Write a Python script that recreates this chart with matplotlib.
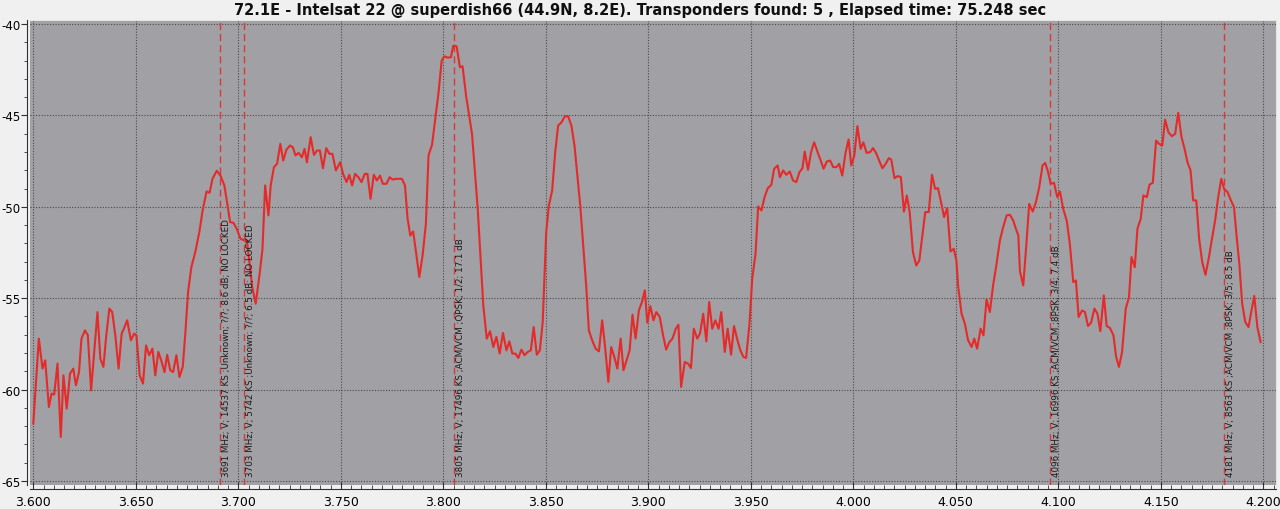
"""Spectrum scan chart — 72.1E Intelsat 22."""
import matplotlib
matplotlib.use("Agg")
import matplotlib.pyplot as plt
import matplotlib.transforms as mtransforms
from matplotlib.ticker import MultipleLocator, FormatStrFormatter

# spectrum trace (GHz, dB)
freq = [
    3.6000, 3.6027, 3.6045, 3.6058, 3.6076, 3.6089, 3.6102, 3.6118, 3.6134, 3.6147,
    3.6163, 3.6179, 3.6195, 3.6208, 3.6223, 3.6235, 3.6252, 3.6266, 3.6282, 3.6297,
    3.6313, 3.6327, 3.6342, 3.6356, 3.6371, 3.6385, 3.6400, 3.6416, 3.6431, 3.6445,
    3.6458, 3.6476, 3.6492, 3.6503, 3.6519, 3.6535, 3.6550, 3.6565, 3.6581, 3.6595,
    3.6610, 3.6624, 3.6640, 3.6653, 3.6668, 3.6682, 3.6698, 3.6713, 3.6729, 3.6742,
    3.6755, 3.6771, 3.6790, 3.6810, 3.6826, 3.6845, 3.6860, 3.6874, 3.6895, 3.6913,
    3.6932, 3.6945, 3.6960, 3.6976, 3.6992, 3.7011, 3.7029, 3.7042, 3.7052, 3.7068,
    3.7085, 3.7105, 3.7118, 3.7131, 3.7147, 3.7158, 3.7174, 3.7189, 3.7205, 3.7219,
    3.7235, 3.7252, 3.7266, 3.7279, 3.7294, 3.7310, 3.7323, 3.7335, 3.7353, 3.7369,
    3.7384, 3.7398, 3.7413, 3.7429, 3.7444, 3.7459, 3.7476, 3.7497, 3.7511, 3.7528,
    3.7541, 3.7555, 3.7570, 3.7586, 3.7601, 3.7617, 3.7630, 3.7645, 3.7661, 3.7676,
    3.7691, 3.7705, 3.7723, 3.7738, 3.7752, 3.7769, 3.7785, 3.7798, 3.7813, 3.7826,
    3.7839, 3.7853, 3.7868, 3.7883, 3.7899, 3.7915, 3.7928, 3.7945, 3.7961, 3.7977,
    3.7992, 3.8005, 3.8021, 3.8037, 3.8049, 3.8065, 3.8081, 3.8094, 3.8111, 3.8140,
    3.8168, 3.8195, 3.8212, 3.8228, 3.8244, 3.8259, 3.8275, 3.8291, 3.8308, 3.8322,
    3.8337, 3.8352, 3.8366, 3.8381, 3.8396, 3.8412, 3.8427, 3.8441, 3.8456, 3.8471,
    3.8485, 3.8502, 3.8515, 3.8531, 3.8546, 3.8560, 3.8577, 3.8593, 3.8609, 3.8625,
    3.8640, 3.8668, 3.8697, 3.8710, 3.8726, 3.8743, 3.8759, 3.8775, 3.8790, 3.8805,
    3.8819, 3.8834, 3.8849, 3.8865, 3.8879, 3.8894, 3.8909, 3.8923, 3.8938, 3.8954,
    3.8969, 3.8983, 3.8995, 3.9010, 3.9025, 3.9039, 3.9056, 3.9072, 3.9087, 3.9103,
    3.9118, 3.9134, 3.9147, 3.9160, 3.9178, 3.9194, 3.9208, 3.9222, 3.9239, 3.9252,
    3.9268, 3.9283, 3.9297, 3.9312, 3.9327, 3.9343, 3.9356, 3.9373, 3.9387, 3.9404,
    3.9418, 3.9435, 3.9449, 3.9464, 3.9477, 3.9493, 3.9507, 3.9523, 3.9536, 3.9552,
    3.9567, 3.9583, 3.9600, 3.9614, 3.9631, 3.9642, 3.9658, 3.9673, 3.9690, 3.9706,
    3.9722, 3.9737, 3.9752, 3.9763, 3.9779, 3.9794, 3.9809, 3.9825, 3.9841, 3.9855,
    3.9871, 3.9887, 3.9902, 3.9918, 3.9931, 3.9946, 3.9962, 3.9977, 3.9990, 4.0005,
    4.0020, 4.0036, 4.0049, 4.0065, 4.0082, 4.0096, 4.0111, 4.0126, 4.0142, 4.0158,
    4.0173, 4.0185, 4.0201, 4.0217, 4.0232, 4.0247, 4.0261, 4.0275, 4.0291, 4.0307,
    4.0322, 4.0337, 4.0351, 4.0368, 4.0384, 4.0399, 4.0413, 4.0428, 4.0443, 4.0458,
    4.0474, 4.0490, 4.0503, 4.0511, 4.0528, 4.0544, 4.0560, 4.0577, 4.0590, 4.0604,
    4.0621, 4.0635, 4.0650, 4.0666, 4.0682, 4.0699, 4.0715, 4.0731, 4.0748, 4.0764,
    4.0780, 4.0793, 4.0805, 4.0813, 4.0829, 4.0845, 4.0858, 4.0875, 4.0891, 4.0907,
    4.0923, 4.0936, 4.0948, 4.0963, 4.0979, 4.0995, 4.1008, 4.1024, 4.1042, 4.1057,
    4.1073, 4.1086, 4.1099, 4.1116, 4.1130, 4.1145, 4.1160, 4.1176, 4.1191, 4.1205,
    4.1222, 4.1236, 4.1252, 4.1269, 4.1282, 4.1296, 4.1311, 4.1329, 4.1345, 4.1357,
    4.1373, 4.1386, 4.1402, 4.1415, 4.1432, 4.1445, 4.1461, 4.1477, 4.1492, 4.1507,
    4.1521, 4.1537, 4.1554, 4.1570, 4.1585, 4.1601, 4.1616, 4.1630, 4.1645, 4.1658,
    4.1673, 4.1687, 4.1702, 4.1718, 4.1735, 4.1749, 4.1765, 4.1780, 4.1795, 4.1809,
    4.1826, 4.1842, 4.1857, 4.1871, 4.1883, 4.1897, 4.1912, 4.1928, 4.1941, 4.1956,
    4.1971, 4.1987,
]
level = [
    -61.86, -57.21, -58.85, -58.40, -60.95, -60.22, -60.27, -58.58, -62.59, -59.22,
    -61.04, -59.13, -58.85, -59.76, -59.04, -57.21, -56.76, -57.03, -60.04, -57.94,
    -55.76, -58.31, -58.76, -57.03, -55.57, -55.76, -57.03, -58.85, -56.94, -56.58,
    -56.21, -57.30, -56.94, -57.03, -59.22, -59.67, -57.58, -58.12, -57.76, -59.22,
    -57.94, -58.40, -59.04, -58.09, -58.94, -59.04, -58.12, -59.31, -58.76, -56.85,
    -54.66, -53.30, -52.48, -51.38, -50.20, -49.16, -49.23, -48.47, -48.03, -48.29,
    -48.83, -49.74, -50.84, -50.87, -51.20, -51.75, -51.84, -51.84, -52.84, -54.39,
    -55.30, -53.57, -52.30, -48.83, -50.47, -48.83, -47.83, -47.65, -46.56, -47.47,
    -46.87, -46.65, -46.74, -47.19, -47.05, -47.29, -46.83, -47.56, -46.19, -47.16,
    -46.92, -46.92, -47.89, -46.79, -47.10, -47.10, -48.01, -47.56, -48.20, -48.65,
    -48.25, -48.83, -48.20, -48.38, -48.65, -48.20, -48.20, -49.56, -48.25, -48.56,
    -48.29, -48.74, -48.74, -48.38, -48.51, -48.47, -48.47, -48.47, -48.83, -50.66,
    -51.57, -51.35, -52.57, -53.84, -52.66, -50.93, -47.19, -46.61, -45.19, -43.73,
    -42.00, -41.77, -41.84, -41.82, -41.18, -41.22, -42.37, -42.31, -43.92, -46.01,
    -50.11, -55.39, -57.21, -56.81, -57.67, -57.12, -58.03, -56.90, -57.85, -57.36,
    -58.03, -58.03, -58.27, -57.81, -58.12, -57.94, -57.85, -56.58, -58.09, -57.85,
    -56.30, -51.38, -49.93, -49.11, -47.01, -45.56, -45.37, -45.05, -45.05, -45.56,
    -46.65, -49.93, -54.30, -56.76, -57.30, -57.76, -57.91, -56.21, -57.76, -59.58,
    -57.67, -58.21, -58.85, -57.21, -58.94, -58.40, -57.85, -55.90, -57.21, -55.67,
    -55.21, -54.57, -56.34, -55.43, -56.21, -55.76, -56.03, -57.03, -57.81, -57.40,
    -57.21, -56.67, -56.45, -59.85, -58.49, -58.58, -58.82, -56.67, -57.21, -56.94,
    -55.85, -57.36, -55.21, -56.67, -56.21, -56.67, -55.76, -57.94, -56.67, -58.09,
    -56.52, -57.30, -57.85, -58.21, -58.27, -56.48, -53.93, -52.57, -49.98, -50.20,
    -49.47, -48.98, -48.80, -47.92, -47.74, -48.38, -48.01, -48.25, -48.07, -48.56,
    -48.65, -48.11, -47.89, -46.98, -47.98, -47.01, -46.47, -46.98, -47.47, -47.92,
    -47.52, -47.47, -47.83, -47.83, -47.65, -48.29, -47.05, -46.32, -47.74, -47.19,
    -45.59, -46.83, -46.47, -47.05, -47.01, -46.79, -47.05, -47.47, -47.89, -47.65,
    -47.34, -47.41, -48.43, -48.32, -48.38, -50.26, -49.38, -50.29, -52.48, -53.21,
    -52.94, -51.57, -50.29, -50.29, -48.25, -49.02, -48.98, -49.74, -50.56, -50.07,
    -52.44, -52.30, -52.94, -54.30, -55.85, -56.39, -57.30, -57.67, -57.21, -57.76,
    -56.67, -57.03, -55.06, -55.76, -54.30, -53.11, -51.84, -51.11, -50.47, -50.44,
    -50.75, -51.20, -51.57, -53.53, -54.30, -51.93, -49.84, -50.26, -49.74, -48.93,
    -47.74, -47.60, -48.01, -48.74, -48.69, -49.47, -49.16, -50.11, -50.80, -52.11,
    -54.12, -54.03, -56.03, -55.67, -55.76, -56.52, -56.34, -55.57, -55.85, -56.81,
    -54.85, -56.52, -56.63, -57.03, -58.21, -58.76, -57.94, -55.57, -54.94, -52.75,
    -53.30, -51.20, -50.66, -49.38, -49.47, -48.78, -48.69, -46.38, -46.56, -46.65,
    -45.23, -45.92, -46.14, -46.01, -44.86, -46.19, -46.83, -47.56, -48.01, -49.65,
    -49.65, -51.75, -53.02, -53.72, -52.75, -51.79, -50.75, -49.47, -48.47, -49.02,
    -49.20, -49.65, -50.02, -51.75, -53.11, -55.30, -56.30, -56.58, -55.76, -54.88,
    -56.58, -57.40,
]

# transponders found (MHz) and their labels
tp_freq_mhz = [3691, 3703, 3805, 4096, 4181]
tp_labels = [
    "3691 MHz; V; 14537 KS ;Unknown; ?/?; 8.6 dB; NO LOCKED",
    "3703 MHz; V; 5742 KS ;Unknown; ?/?; 6.5 dB; NO LOCKED",
    "3805 MHz; V; 17496 KS ;ACM/VCM ;QPSK; 1/2; 17.1 dB",
    "4096 MHz; V; 16996 KS ;ACM/VCM ;8PSK; 3/4; 7.4 dB",
    "4181 MHz; V; 8563 KS ;ACM/VCM ;8PSK; 3/5; 8.5 dB",
]

title = ("72.1E - Intelsat 22 @ superdish66 (44.9N, 8.2E). "
         "Transponders found: 5 , Elapsed time: 75.248 sec")

fig = plt.figure(figsize=(12.8, 5.1), dpi=100, facecolor="#f0f0f0")
ax = fig.add_axes([30 / 1280, 1 - 486 / 510, 1246 / 1280, 465 / 510])
ax.set_facecolor("#a0a0a5")

ax.plot(freq, level, color="#e52a2a", linewidth=1.5, zorder=3)

text_off = mtransforms.offset_copy(ax.transData, fig=fig, x=2, y=0, units="dots")
for f_mhz, lab in zip(tp_freq_mhz, tp_labels):
    f = f_mhz / 1000
    ax.axvline(f, color="#d83838", linewidth=1.0, linestyle=(0, (5, 3)), zorder=2)
    ax.text(f, -64.75, lab, rotation=90, ha="left", va="bottom", fontsize=6.3,
            color="#1a1a1a", transform=text_off, zorder=4)

ax.set_xlim(3.6 - 3.3 / 2050, 4.2 + 12.7 / 2050)
ax.set_ylim(-65 - 4 / 18.3, -40 + 4 / 18.3)

ax.xaxis.set_major_locator(MultipleLocator(0.05))
ax.xaxis.set_minor_locator(MultipleLocator(0.005))
ax.xaxis.set_major_formatter(FormatStrFormatter("%.3f"))
ax.yaxis.set_major_locator(MultipleLocator(5))
ax.yaxis.set_minor_locator(MultipleLocator(1))
ax.yaxis.set_major_formatter(FormatStrFormatter("%d"))

ax.grid(True, which="major", color="#4a4a4a", linestyle=(0, (1, 1.5)), linewidth=0.8)
ax.set_axisbelow(True)

for side in ("top", "right"):
    ax.spines[side].set_color("#e4e4e4")
ax.spines["left"].set_position(("outward", 2))
ax.spines["bottom"].set_position(("outward", 3))
ax.spines["left"].set_color("#303030")
ax.spines["bottom"].set_color("#303030")

ax.tick_params(axis="x", which="major", direction="in", length=5, labelsize=9,
               pad=4, color="#303030")
ax.tick_params(axis="x", which="minor", direction="in", length=3, color="#303030")
ax.tick_params(axis="y", which="major", direction="out", length=4, labelsize=8.5,
               pad=1, color="#303030")
ax.tick_params(axis="y", which="minor", direction="out", length=2, color="#303030")

fig.text(0.5, 1 - 10 / 510, title, ha="center", va="center", fontsize=10.5,
         fontweight="bold", color="#101010")

fig.savefig("out.png", dpi=100, facecolor=fig.get_facecolor())
plt.close(fig)
